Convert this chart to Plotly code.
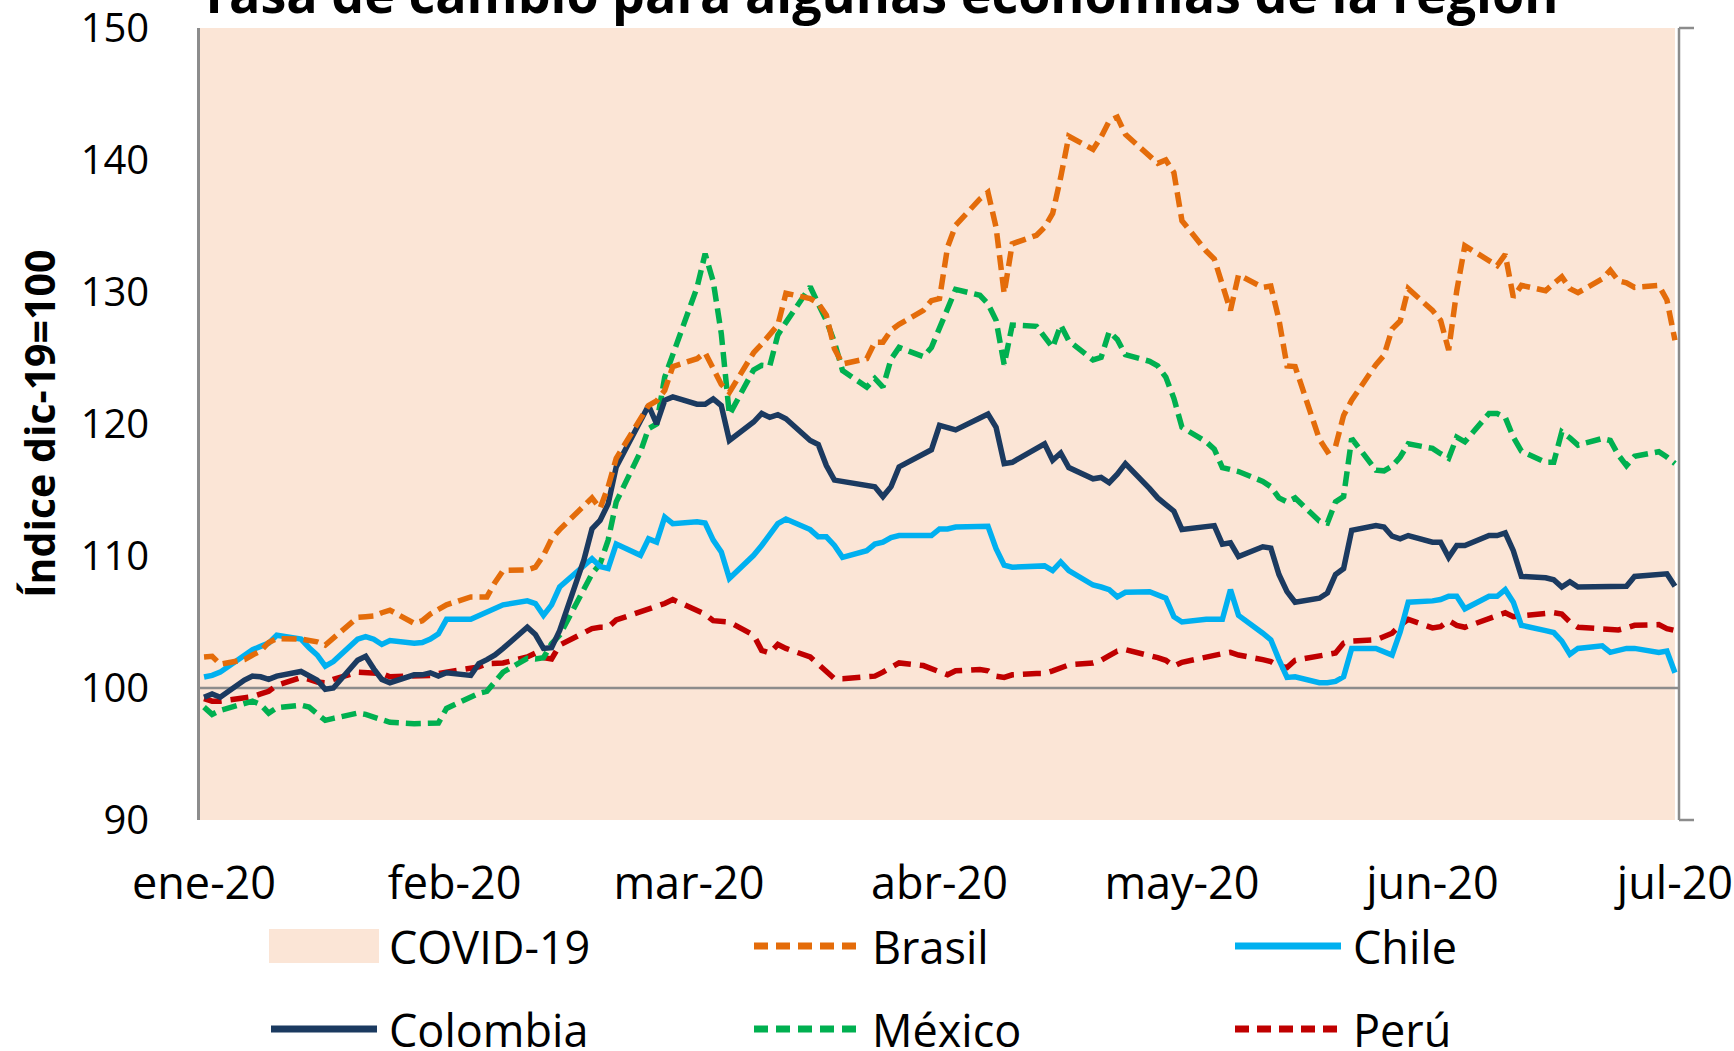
import pandas as pd
import plotly.graph_objects as go

# ---------------- data ----------------
dates = pd.bdate_range("2020-01-01", "2020-07-01")   # business days shown on the chart
covid_period = ["2020-01-01", "2020-07-01"]
month_ticks = ["2020-01-01", "2020-02-01", "2020-03-01", "2020-04-01",
               "2020-05-01", "2020-06-01", "2020-07-01"]
month_labels = ["ene-20", "feb-20", "mar-20", "abr-20", "may-20", "jun-20", "jul-20"]
y_ticks = [90, 100, 110, 120, 130, 140, 150]

brasil = [
    102.35, 102.4, 101.8, 102.15, 102.5, 102.8, 103.45, 103.75, 103.7, 103.6, 103.5, 103.25,
    103.75, 105.35, 105.4, 105.45, 105.7, 105.9, 104.9, 105.1, 105.6, 106.0, 106.3,
    106.9, 106.9, 106.9, 108.0, 108.9, 108.95, 109.15, 110.05, 111.3, 112.0, 113.75, 114.4,
    113.6, 115.25, 117.4, 120.4, 121.4, 121.75, 122.55, 124.35,
    124.95, 125.4, 124.3, 123.0, 122.4, 125.4, 126.05, 126.8, 127.5, 129.9, 129.5, 129.15,
    128.25, 125.7, 124.55, 124.95, 126.2, 126.2, 127.1, 127.55, 128.6, 129.35,
    129.5, 133.4, 135.05, 137.05, 137.55, 134.9, 129.9, 133.65, 134.3, 134.9, 135.95, 138.7,
    141.8, 140.8, 141.75, 142.95, 143.25, 141.95, 140.2, 139.75, 140.0, 139.05,
    135.4, 133.1, 132.5, 130.65, 128.6, 131.3, 130.35, 130.45, 127.9, 124.4, 124.35, 118.85,
    117.9, 118.3, 120.65, 121.8, 124.5, 125.2, 127.2, 127.8, 130.25,
    128.6, 127.85, 125.6, 130.1, 133.5, 132.4, 132.0, 132.85, 129.6, 130.5, 130.1, 130.65,
    131.15, 130.25, 129.95, 131.0, 131.65, 130.85, 130.7, 130.35, 130.5, 129.4,
    126.35,
]
chile = [
    100.83, 100.96, 101.2, 102.4, 102.9, 103.15, 103.4, 104.0, 103.7, 103.05, 102.5, 101.65,
    102.0, 103.7, 103.9, 103.7, 103.3, 103.6, 103.4, 103.45, 103.7, 104.1, 105.2,
    105.2, 105.5, 105.8, 106.0, 106.3, 106.6, 106.4, 105.5, 106.3, 107.65, 109.3, 109.8,
    109.2, 109.05, 110.9, 110.05, 111.3, 111.05, 112.95, 112.45,
    112.6, 112.5, 111.2, 110.3, 108.3, 110.05, 110.8, 111.55, 112.45, 112.8, 112.0, 111.45,
    111.45, 110.8, 109.9, 110.4, 110.9, 111.05, 111.4, 111.55, 111.55, 111.55,
    112.05, 112.05, 112.2, 112.25, 112.25, 110.55, 109.3, 109.15, 109.2, 109.25, 108.9, 109.55,
    108.9, 107.8, 107.65, 107.45, 106.9, 107.25, 107.3, 107.05, 106.8, 105.4,
    105.0, 105.2, 105.2, 105.2, 107.45, 105.5, 104.15, 103.65, 102.15, 100.8, 100.85, 100.4,
    100.4, 100.5, 100.85, 103.0, 103.0, 102.7, 102.5, 104.25, 106.5,
    106.6, 106.7, 106.95, 106.95, 106.0, 106.95, 106.95, 107.45, 106.5, 104.75, 104.35, 104.2,
    103.55, 102.55, 103.0, 103.2, 102.7, 102.85, 103.0, 103.0, 102.7, 102.8,
    101.15,
]
colombia = [
    99.3, 99.55, 99.3, 100.6, 100.9, 100.85, 100.65, 100.9, 101.25, 100.95, 100.6, 99.9,
    100.0, 102.1, 102.4, 101.45, 100.65, 100.4, 101.0, 101.0, 101.15, 100.9, 101.15,
    100.95, 101.85, 102.15, 102.5, 103.0, 104.6, 104.05, 103.0, 103.05, 104.35, 109.7, 112.05,
    112.7, 113.95, 116.75, 120.15, 121.4, 120.0, 121.8, 122.05,
    121.5, 121.5, 121.9, 121.4, 118.75, 120.15, 120.8, 120.5, 120.7, 120.4, 118.75, 118.45,
    116.85, 115.75, 115.65, 115.45, 115.25, 114.5, 115.25, 116.75, 117.75, 118.05,
    119.9, 119.75, 119.55, 120.45, 120.75, 119.75, 117.0, 117.1, 118.2, 118.5, 117.25, 117.8,
    116.7, 115.85, 115.95, 115.55, 116.2, 117.0, 115.1, 114.4, 113.9, 113.4,
    112.0, 112.3, 112.3, 110.9, 111.0, 109.95, 110.7, 110.6, 108.6, 107.3, 106.5, 106.8,
    107.2, 108.6, 109.05, 111.95, 112.3, 112.2, 111.5, 111.3, 111.55,
    111.05, 111.05, 109.9, 110.8, 110.8, 111.55, 111.55, 111.75, 110.4, 108.45, 108.35, 108.2,
    107.65, 108.05, 107.65, 107.65, 107.65, 107.65, 107.7, 108.45, 108.65, 108.65,
    107.7,
]
mexico = [
    98.55, 98.0, 98.3, 98.85, 99.0, 98.75, 98.1, 98.5, 98.7, 98.55, 98.05, 97.55,
    97.7, 98.1, 98.0, 97.8, 97.55, 97.4, 97.3, 97.3, 97.3, 97.35, 98.45,
    99.35, 99.6, 99.75, 100.4, 101.2, 102.25, 102.2, 102.3, 103.35, 104.0, 107.5, 108.65,
    109.4, 111.2, 114.1, 117.9, 119.65, 120.0, 123.55, 125.3,
    130.35, 132.9, 130.8, 126.85, 120.7, 124.1, 124.45, 124.4, 126.75, 127.7, 130.4, 129.1,
    127.85, 126.2, 124.05, 122.8, 123.45, 122.8, 124.9, 125.8, 125.1, 125.8,
    127.2, 128.75, 130.2, 129.75, 129.1, 127.85, 124.5, 127.5, 127.4, 126.6, 125.8, 127.5,
    126.3, 124.85, 125.05, 127.0, 126.4, 125.25, 124.75, 124.4, 123.55, 121.95,
    119.75, 118.65, 118.1, 116.7, 116.6, 116.4, 115.65, 115.25, 114.4, 114.1, 114.4, 112.65,
    112.5, 114.1, 114.5, 118.9, 116.5, 116.45, 116.8, 117.5, 118.5,
    118.15, 117.75, 117.4, 119.0, 118.65, 120.8, 120.8, 120.5, 119.0, 117.95, 117.1, 117.1,
    119.4, 118.95, 118.4, 118.9, 118.75, 117.65, 116.85, 117.55, 117.9, 117.5,
    117.0,
]
peru = [
    99.2, 99.0, 99.0, 99.25, 99.35, 99.55, 99.75, 100.2, 100.8, 100.65, 100.45, 100.4,
    100.65, 101.2, 101.2, 101.2, 101.1, 100.85, 100.9, 100.95, 100.95, 101.1, 101.2,
    101.4, 101.6, 101.85, 101.9, 101.9, 102.35, 102.65, 102.3, 102.2, 103.25, 104.15, 104.5,
    104.6, 104.6, 105.15, 105.75, 105.95, 106.15, 106.4, 106.7,
    105.9, 105.6, 105.1, 105.0, 105.0, 104.0, 102.85, 102.65, 103.3, 103.0, 102.35, 101.8,
    101.2, 100.7, 100.7, 100.8, 100.9, 101.2, 101.6, 101.9, 101.7, 101.5,
    101.2, 101.0, 101.3, 101.4, 101.3, 100.9, 100.8, 101.0, 101.1, 101.1, 101.3, 101.55,
    101.75, 101.9, 102.1, 102.45, 102.8, 102.9, 102.5, 102.3, 102.1, 101.65,
    101.95, 102.4, 102.45, 102.6, 102.7, 102.5, 102.15, 102.0, 101.65, 101.55, 102.1, 102.45,
    102.5, 102.65, 103.4, 103.55, 103.65, 103.85, 104.15, 104.75, 105.2,
    104.55, 104.65, 105.1, 104.75, 104.6, 105.3, 105.5, 105.7, 105.4, 105.45, 105.7, 105.7,
    105.6, 105.0, 104.6, 104.5, 104.5, 104.4, 104.55, 104.75, 104.8, 104.5,
    104.35,
]

# ---------------- styling ----------------
FONT = "'Open Sans', Lato, sans-serif"
GRAY = "#8c8c8c"
COVID_FILL = "#FBE5D6"
C_BRA, C_CHI, C_COL, C_MEX, C_PER = "#E46C0A", "#00B0F0", "#1B3A60", "#00B050", "#C00000"

series = [
    ("Brasil", brasil, C_BRA, "15px,7px"),
    ("Chile", chile, C_CHI, "solid"),
    ("Colombia", colombia, C_COL, "solid"),
    ("México", mexico, C_MEX, "15px,7px"),
    ("Perú", peru, C_PER, "18px,9px"),
]

W, H = 1734, 1051
L, R, T, B = 200, 55, 28, 231
PW, PH = W - L - R, H - T - B


def px_x(px):
    return (px - L) / PW


def px_y(py):
    return (H - B - py) / PH


fig = go.Figure()
lookup = {s[0]: s for s in series}
for name in ["Perú", "México", "Chile", "Colombia", "Brasil"]:
    _, vals, col, dash = lookup[name]
    fig.add_trace(go.Scatter(
        x=dates[:len(vals)], y=vals, mode="lines", name=name,
        line=dict(color=col, width=5.5, dash=dash),
        showlegend=False, hoverinfo="x+y+name",
    ))

# COVID-19 shaded period
c0 = pd.Timestamp(covid_period[0]) - pd.Timedelta(hours=12)
c1 = pd.Timestamp(covid_period[1])
x_end = pd.Timestamp(covid_period[1]) + pd.Timedelta(hours=12)
fig.add_vrect(x0=c0, x1=c1, fillcolor=COVID_FILL, opacity=1, line_width=0, layer="below")

# reference line at 100
fig.add_shape(type="line", xref="paper", x0=0, x1=1, yref="y", y0=100, y1=100,
              line=dict(color=GRAY, width=2.5), layer="between")

# right-hand (secondary) axis bracket
tick = 15 / PW
fig.add_shape(type="line", xref="paper", yref="paper", x0=1, x1=1, y0=0, y1=1,
              line=dict(color=GRAY, width=2.5))
for yy in (0, 1):
    fig.add_shape(type="line", xref="paper", yref="paper", x0=1, x1=1 + tick, y0=yy, y1=yy,
                  line=dict(color=GRAY, width=2.5))

fig.update_layout(
    template="none",
    width=W, height=H,
    margin=dict(l=L, r=R, t=T, b=B, pad=0, autoexpand=False),
    paper_bgcolor="white", plot_bgcolor="white",
    font=dict(family=FONT, color="black"),
    showlegend=False,
    xaxis=dict(type="date", range=[c0, x_end], tickmode="array",
               tickvals=month_ticks, ticktext=month_labels, automargin=False,
               showgrid=False, zeroline=False, showline=False, ticks="",
               tickfont=dict(family=FONT, size=45, color="black"),
               ticklabelstandoff=33, ticklabeloverflow="allow"),
    yaxis=dict(range=[90, 150], tickmode="array", tickvals=y_ticks, automargin=False,
               showgrid=False, zeroline=False, showline=True, linecolor=GRAY, linewidth=2.5,
               ticks="", tickfont=dict(family=FONT, size=40, color="black"),
               ticklabelstandoff=40, ticklabeloverflow="allow"),
)

# y axis title
fig.add_annotation(text="<b>Índice dic-19=100</b>", xref="paper", yref="paper",
                   x=px_x(39), y=0.5, xanchor="center", yanchor="middle",
                   textangle=-90, showarrow=False,
                   font=dict(family=FONT, size=41, color="black"))

# chart title (partially cut off at top, as in the original)
fig.add_annotation(text="<b>Tasa de cambio para algunas economías de la región</b>",
                   xref="paper", yref="paper", x=px_x(197), y=px_y(30),
                   xanchor="left", yanchor="bottom", showarrow=False,
                   font=dict(family=FONT, size=52, color="black"))

# custom legend
legend_items = [
    ("COVID-19", "box", COVID_FILL, None, 269, 946),
    ("Brasil", "line", C_BRA, "dot", 752, 946),
    ("Chile", "line", C_CHI, "solid", 1233, 946),
    ("Colombia", "line", C_COL, "solid", 269, 1029),
    ("México", "line", C_MEX, "dot", 752, 1029),
    ("Perú", "line", C_PER, "dot", 1233, 1029),
]
for label, kind, col, dash, x0, yc in legend_items:
    if kind == "box":
        fig.add_shape(type="rect", xref="paper", yref="paper",
                      x0=px_x(x0), x1=px_x(x0 + 110), y0=px_y(yc + 17), y1=px_y(yc - 17),
                      fillcolor=col, line_width=0)
    else:
        fig.add_shape(type="line", xref="paper", yref="paper",
                      x0=px_x(x0 + 2), x1=px_x(x0 + 108), y0=px_y(yc), y1=px_y(yc),
                      line=dict(color=col, width=7,
                                dash=("14px,8px" if dash == "dot" else "solid")))
    fig.add_annotation(text=label, xref="paper", yref="paper",
                       x=px_x(x0 + 118), y=px_y(yc), xanchor="left", yanchor="middle",
                       showarrow=False, font=dict(family=FONT, size=45, color="black"))

fig.write_html("out.html", config={"displayModeBar": False},
               post_script="document.body.style.margin='0';")
